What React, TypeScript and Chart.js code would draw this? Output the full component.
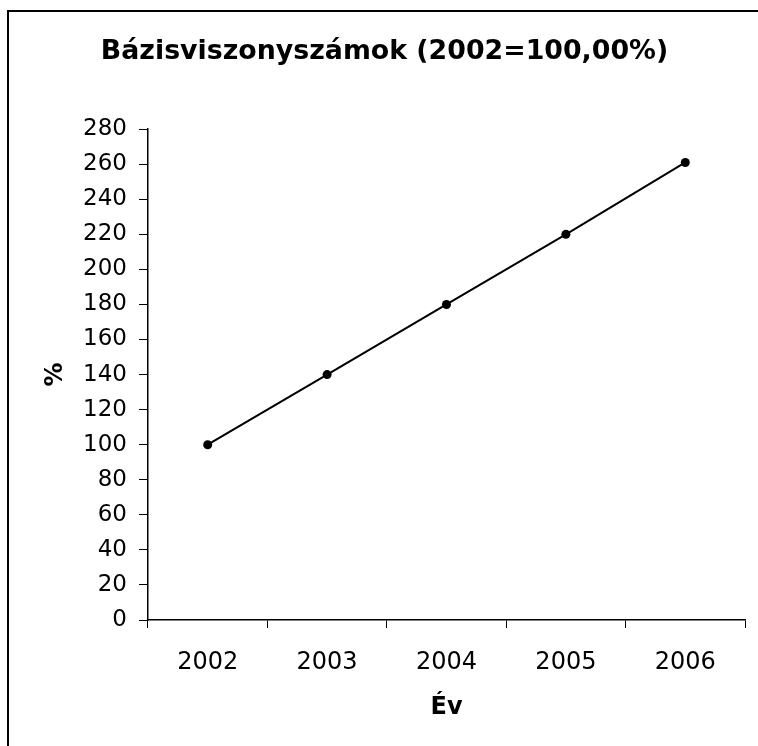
import React, { useEffect, useRef } from "react";
import { Chart, registerables } from "chart.js";

Chart.register(...registerables);

const categories = ["2002", "2003", "2004", "2005", "2006"];
const values = [100, 140, 180, 220, 261];
const yTicks = { min: 0, max: 280, step: 20 };
const titleText = "Bázisviszonyszámok (2002=100,00%)";
const xTitle = "Év";
const yTitle = "%";

const FONT = "'DejaVu Sans', Verdana, sans-serif";

export default function App() {
  const ref = useRef<HTMLCanvasElement | null>(null);
  useEffect(() => {
    if (!ref.current) return;
    const chart = new Chart(ref.current, {
      type: "line",
      data: {
        labels: categories,
        datasets: [
          {
            data: values,
            borderColor: "#000",
            backgroundColor: "#000",
            borderWidth: 2,
            pointRadius: 4.5,
            pointBackgroundColor: "#000",
            pointBorderColor: "#000",
            pointBorderWidth: 0,
            tension: 0,
          },
        ],
      },
      options: {
        responsive: false,
        animation: false,
        devicePixelRatio: 1,
        layout: { padding: { top: 0, right: 13, bottom: 0, left: 24 } },
        plugins: {
          legend: { display: false },
          tooltip: { enabled: false },
          title: {
            display: true,
            text: titleText,
            color: "#000",
            font: { family: FONT, size: 26.8, weight: "bold" },
            padding: { top: 36, bottom: 61 },
          },
        },
        scales: {
          x: {
            type: "category",
            offset: true,
            afterFit: (s: any) => {
              s.height = 126;
            },
            grid: {
              display: true,
              offset: true,
              drawOnChartArea: false,
              drawTicks: true,
              tickLength: 8,
              color: "#000",
              lineWidth: 1,
            },
            border: { display: true, color: "#000", width: 1.5 },
            ticks: {
              color: "#000",
              font: { family: FONT, size: 24 },
              padding: 20,
            },
            title: {
              display: true,
              text: xTitle,
              color: "#000",
              font: { family: FONT, size: 24, weight: "bold" },
              padding: { top: 6, bottom: 24 },
            },
          },
          y: {
            type: "linear",
            min: yTicks.min,
            max: yTicks.max,
            afterFit: (s: any) => {
              s.width = 124;
            },
            grid: {
              display: true,
              drawOnChartArea: false,
              drawTicks: true,
              tickLength: 9,
              color: "#000",
              lineWidth: 1,
            },
            border: { display: true, color: "#000", width: 1.5 },
            ticks: {
              stepSize: yTicks.step,
              color: "#000",
              font: { family: FONT, size: 23 },
              padding: 12,
            },
            title: {
              display: true,
              text: yTitle,
              color: "#000",
              font: { family: FONT, size: 24, weight: "bold" },
              padding: { top: 17, bottom: 0 },
            },
          },
        },
      },
    });
    return () => chart.destroy();
  }, []);
  return (
    <div>
      <canvas
        ref={ref}
        width={758}
        height={746}
        style={{ position: "fixed", left: 0, top: 0, width: 758, height: 746 }}
      />
      <div
        style={{
          position: "fixed",
          left: 7,
          top: 10,
          width: 800,
          height: 800,
          border: "2px solid #000",
          boxSizing: "border-box",
          pointerEvents: "none",
        }}
      />
    </div>
  );
}
